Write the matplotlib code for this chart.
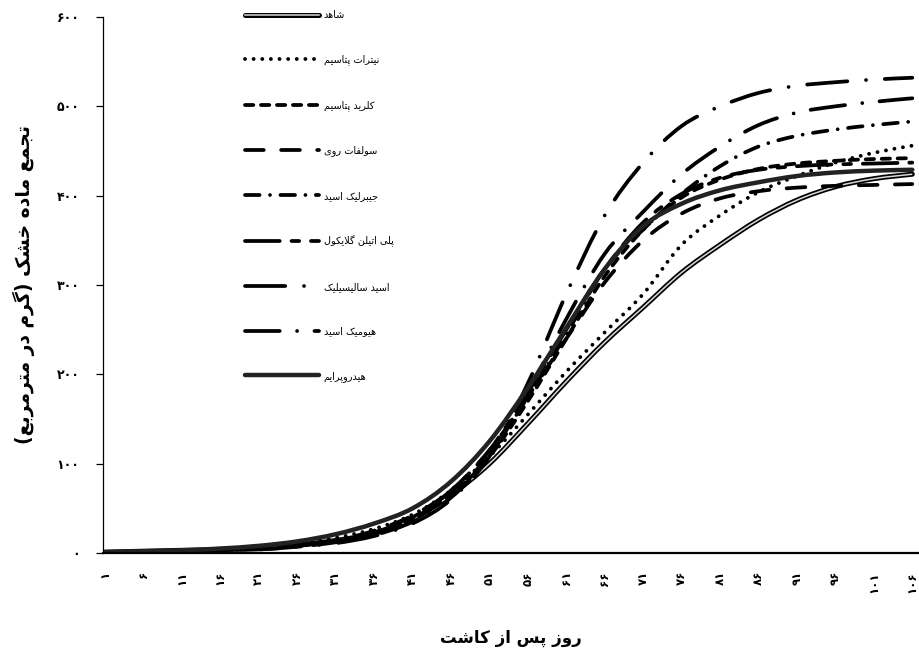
import matplotlib
matplotlib.use("Agg")
import matplotlib.pyplot as plt
from matplotlib.path import Path
from matplotlib.patches import PathPatch
from matplotlib.lines import Line2D

plt.rcParams['font.family'] = ['DejaVu Sans']
plt.rcParams['lines.scale_dashes'] = False

# ---------- data ----------
days = [1, 6, 11, 16, 21, 26, 31, 36, 41, 46, 51, 56, 61, 66, 71, 76, 81, 86, 91, 96, 101, 106]

shahed     = [1, 2, 3, 4, 6, 9, 14, 22, 38, 65, 100, 145, 192, 236, 275, 314, 345, 373, 395, 410, 419, 424]
nitrate    = [1, 2, 3, 5, 7, 11, 17, 27, 43, 70, 108, 155, 203, 247, 290, 345, 378, 404, 422, 437, 448, 456]
chloride   = [1, 1, 2, 3, 5, 8, 13, 22, 38, 65, 108, 170, 240, 310, 362, 398, 418, 430, 436, 439, 441, 442]
sulfat     = [1, 1, 2, 3, 5, 8, 14, 25, 42, 70, 115, 175, 240, 303, 350, 380, 397, 405, 409, 411, 412, 413]
gibberelic = [1, 1, 2, 3, 5, 8, 13, 22, 38, 66, 110, 175, 245, 318, 362, 402, 433, 455, 467, 474, 479, 483]
peg        = [1, 1, 2, 3, 5, 8, 13, 23, 40, 70, 115, 180, 250, 318, 370, 402, 420, 429, 433, 435, 436, 437]
salicylic  = [1, 1, 2, 3, 4, 7, 11, 19, 33, 60, 108, 190, 290, 378, 437, 478, 500, 515, 523, 527, 530, 532]
humic      = [1, 1, 2, 3, 4, 7, 12, 20, 35, 62, 108, 180, 262, 335, 382, 424, 455, 479, 493, 500, 505, 509]
hydroprime = [1, 2, 3, 5, 8, 13, 21, 33, 50, 80, 125, 185, 252, 318, 366, 391, 406, 415, 422, 426, 428, 429]

labels = ["شاهد", "نیترات پتاسیم", "کلرید پتاسیم", "سولفات روی", "جیبرلیک اسید",
          "پلی اتیلن گلایکول", "اسید سالیسیلیک", "هیومیک اسید", "هیدروپرایم"]
y_ticks = [0, 100, 200, 300, 400, 500, 600]

# ---------- minimal Persian shaping (matplotlib has no RTL support) ----------
FORMS = {
    'ا': (0xFE8D, 0xFE8E), 'آ': (0xFE81, 0xFE82), 'د': (0xFEA9, 0xFEAA), 'ذ': (0xFEAB, 0xFEAC),
    'ر': (0xFEAD, 0xFEAE), 'ز': (0xFEAF, 0xFEB0), 'ژ': (0xFB8A, 0xFB8B), 'و': (0xFEED, 0xFEEE),
    'ب': (0xFE8F, 0xFE90, 0xFE91, 0xFE92), 'ت': (0xFE95, 0xFE96, 0xFE97, 0xFE98),
    'ج': (0xFE9D, 0xFE9E, 0xFE9F, 0xFEA0), 'خ': (0xFEA5, 0xFEA6, 0xFEA7, 0xFEA8),
    'س': (0xFEB1, 0xFEB2, 0xFEB3, 0xFEB4), 'ش': (0xFEB5, 0xFEB6, 0xFEB7, 0xFEB8),
    'ع': (0xFEC9, 0xFECA, 0xFECB, 0xFECC), 'ف': (0xFED1, 0xFED2, 0xFED3, 0xFED4),
    'ل': (0xFEDD, 0xFEDE, 0xFEDF, 0xFEE0), 'م': (0xFEE1, 0xFEE2, 0xFEE3, 0xFEE4),
    'ن': (0xFEE5, 0xFEE6, 0xFEE7, 0xFEE8), 'ه': (0xFEE9, 0xFEEA, 0xFEEB, 0xFEEC),
    'پ': (0xFB56, 0xFB57, 0xFB58, 0xFB59), 'ک': (0xFB8E, 0xFB8F, 0xFB90, 0xFB91),
    'گ': (0xFB92, 0xFB93, 0xFB94, 0xFB95), 'ی': (0xFBFC, 0xFBFD, 0xFBFE, 0xFBFF),
}


def fa(text):
    out = []
    i = 0
    n = len(text)
    while i < n:
        ch = text[i]
        prev = text[i - 1] if i > 0 else ''
        nxt = text[i + 1] if i < n - 1 else ''
        if ch not in FORMS:
            out.append(ch)
            i += 1
            continue
        joins_prev = prev in FORMS and len(FORMS[prev]) == 4
        if ch == 'ل' and nxt in ('ا', 'آ'):
            out.append(chr(0xFEFC if joins_prev else 0xFEFB))
            i += 2
            continue
        f = FORMS[ch]
        joins_next = len(f) == 4 and nxt in FORMS
        if joins_prev and joins_next:
            out.append(chr(f[3]))
        elif joins_prev:
            out.append(chr(f[1]))
        elif joins_next:
            out.append(chr(f[2]))
        else:
            out.append(chr(f[0]))
        i += 1
    s = ''.join(reversed(out))
    return s.replace('(', '\0').replace(')', '(').replace('\0', ')')


def fa_num(v):
    return str(v).translate(str.maketrans('0123456789', '۰۱۲۳۴۵۶۷۸۹'))


def smooth_path(x, y):
    # Catmull-Rom through the data points as cubic Beziers (like Excel's smoothed line)
    pts = list(zip(x, y))
    verts = [pts[0]]
    codes = [Path.MOVETO]
    n = len(pts)
    for i in range(n - 1):
        p0 = pts[i - 1] if i > 0 else pts[i]
        p1 = pts[i]
        p2 = pts[i + 1]
        p3 = pts[i + 2] if i + 2 < n else pts[i + 1]
        c1 = (p1[0] + (p2[0] - p0[0]) / 6, p1[1] + (p2[1] - p0[1]) / 6)
        c2 = (p2[0] - (p3[0] - p1[0]) / 6, p2[1] - (p3[1] - p1[1]) / 6)
        verts += [c1, c2, p2]
        codes += [Path.CURVE4] * 3
    return Path(verts, codes)


# ---------- plot ----------
fig = plt.figure(figsize=(9.2, 6.57), dpi=100)
ax = fig.add_axes([103 / 920, 1 - 553 / 657, 817 / 920, 536 / 657])

lw = 2.7
series = [
    (shahed,     dict(color='black', lw=3.6, ls='-')),
    (nitrate,    dict(color='black', lw=2.8, ls=(0, (0.01, 6.2)))),
    (chloride,   dict(color='black', lw=lw, ls=(0, (6, 5.5)))),
    (sulfat,     dict(color='black', lw=lw, ls=(0, (13.5, 12.5)))),
    (gibberelic, dict(color='black', lw=lw, ls=(0, (10.5, 7.5, 0.01, 7.5)))),
    (peg,        dict(color='black', lw=lw, ls=(0, (25, 8.5, 5.5, 8.5)))),
    (salicylic,  dict(color='black', lw=lw, ls=(0, (29, 13.5, 0.01, 13.5)))),
    (humic,      dict(color='black', lw=lw, ls=(0, (25, 12.5, 0.01, 12.5)))),
    (hydroprime, dict(color='#222222', lw=3.2, ls='-')),
]

handles = []
for k, (vals, st) in enumerate(series):
    p = PathPatch(smooth_path(days, vals), fill=False, edgecolor=st['color'],
                  lw=st['lw'], linestyle=st['ls'], capstyle='round', joinstyle='round', zorder=2 + k * 0.01)
    ax.add_patch(p)
    h = Line2D([], [], color=st['color'], lw=st['lw'], linestyle=st['ls'],
               dash_capstyle='round', solid_capstyle='round')
    if k == 0:
        # control curve is a double line: light core on a black outline
        ax.add_patch(PathPatch(smooth_path(days, vals), fill=False, edgecolor='#d8d8d8',
                               lw=1.1, zorder=2.005))
        h = (h, Line2D([], [], color='#d8d8d8', lw=1.1))
    handles.append(h)

ax.set_xlim(0.74, 107)
ax.set_ylim(0, 600)

ax.spines['top'].set_visible(False)
ax.spines['right'].set_visible(False)
ax.spines['left'].set_linewidth(0.9)
ax.spines['bottom'].set_linewidth(1.6)

ax.set_yticks(y_ticks)
ax.set_yticklabels([fa_num(v) for v in y_ticks], fontsize=9, fontweight='bold')
ax.tick_params(axis='y', length=5, width=0.9, pad=12)
ax.set_xticks(days)
ax.set_xticklabels([fa_num(d) for d in days], rotation=90, fontsize=8.5, fontweight='bold')
ax.tick_params(axis='x', length=0, pad=13)

fig.text(0.555, 1 - 638 / 657, fa("روز پس از کاشت"), ha='center', va='center',
         fontsize=12, fontweight='bold')
fig.text(24 / 920, 1 - 285 / 657, fa("تجمع ماده خشک (گرم در مترمربع)"), ha='center', va='center',
         rotation=90, fontsize=13.5, fontweight='bold')

leg = ax.legend(handles, [fa(t) for t in labels], loc='upper left',
                bbox_to_anchor=(245 / 920, 1 - 10 / 657), bbox_transform=fig.transFigure,
                frameon=False, fontsize=7, handlelength=7.6, handletextpad=0.5,
                labelspacing=3.55, borderaxespad=0, borderpad=0)

fig.savefig("out.png", dpi=100)
